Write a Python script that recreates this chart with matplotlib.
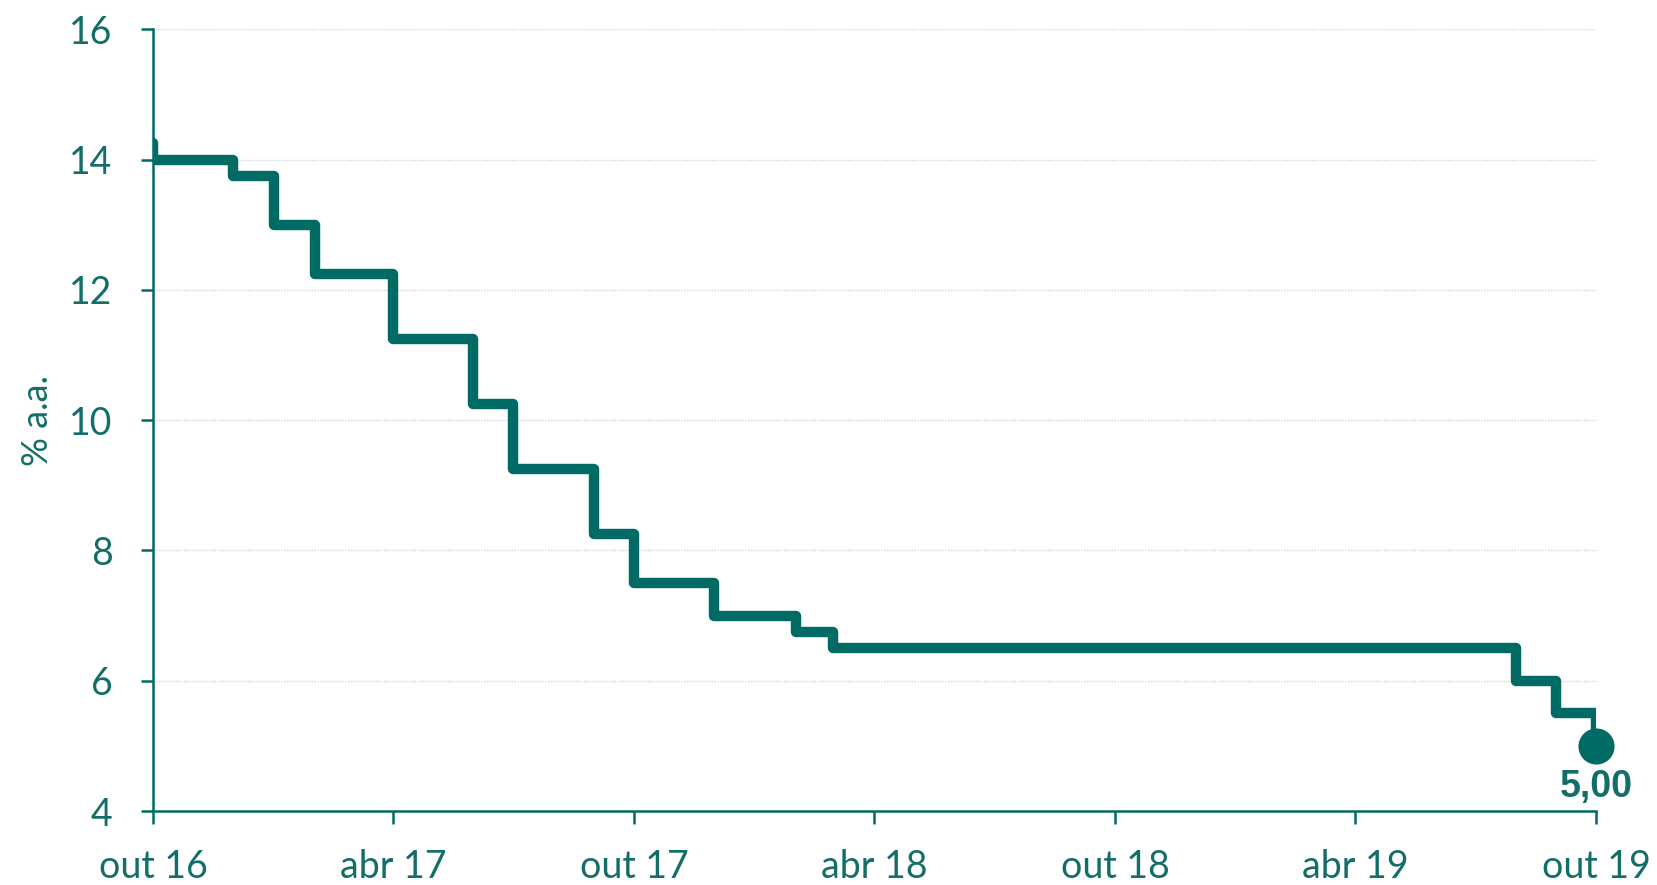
import matplotlib
matplotlib.use('Agg')
import matplotlib.pyplot as plt
import pandas as pd

# Selic monthly (% a.a.), Sep 2016 - Oct 2019
months = pd.date_range('2016-09-01', '2019-10-01', freq='MS')
selic = [14.25, 14.00, 14.00, 13.75, 13.00, 12.25, 12.25, 11.25, 11.25,
         10.25, 9.25, 9.25, 8.25, 7.50, 7.50, 7.00, 7.00, 6.75,
         6.50, 6.50, 6.50, 6.50, 6.50, 6.50, 6.50, 6.50, 6.50, 6.50,
         6.50, 6.50, 6.50, 6.50, 6.50, 6.50, 6.50,
         6.00, 5.50, 5.00]

tick_dates = pd.to_datetime(['2016-10-01', '2017-04-01', '2017-10-01', '2018-04-01',
                             '2018-10-01', '2019-04-01', '2019-10-01'])
tick_labels = ['out 16', 'abr 17', 'out 17', 'abr 18', 'out 18', 'abr 19', 'out 19']
y_ticks = [4, 6, 8, 10, 12, 14, 16]

teal = '#006a64'
text_teal = '#136e69'

plt.rcParams['font.family'] = ['Lato', 'DejaVu Sans']

fig = plt.figure(figsize=(16.58, 8.85), dpi=100)
ax = fig.add_axes([0.0923, 0.0836, 0.8703, 0.8831])

ax.step(months, selic, where='post', color=teal, linewidth=7.5,
        solid_joinstyle='round', solid_capstyle='butt', zorder=3)

# last point marker + label
ax.plot(months[-1], selic[-1], 'o', color=teal, markersize=25, clip_on=False, zorder=4)
ax.annotate('5,00', (months[-1], selic[-1]), xytext=(0, -17), textcoords='offset points',
            ha='center', va='top', fontsize=27, fontweight='bold', color=text_teal,
            fontfamily=['Liberation Sans', 'DejaVu Sans'])

ax.set_xlim(tick_dates[0], tick_dates[-1])
ax.set_ylim(4, 16)
ax.set_xticks(tick_dates)
ax.set_xticklabels(tick_labels)
ax.set_yticks(y_ticks)

for y in y_ticks[1:]:
    ax.axhline(y, color='#d4d4d4', linewidth=1, linestyle=(0, (1, 1)), zorder=1)

for s in ['top', 'right']:
    ax.spines[s].set_visible(False)
for s in ['left', 'bottom']:
    ax.spines[s].set_color(teal)
    ax.spines[s].set_linewidth(1.8)

ax.tick_params(axis='both', colors=teal, labelcolor=text_teal, width=1.8, length=9,
               labelsize=27)
ax.tick_params(axis='x', pad=18)
ax.tick_params(axis='y', pad=20)

ax.set_ylabel('% a.a.', fontsize=26, color=text_teal, labelpad=11)

fig.savefig('out.png', dpi=100)
